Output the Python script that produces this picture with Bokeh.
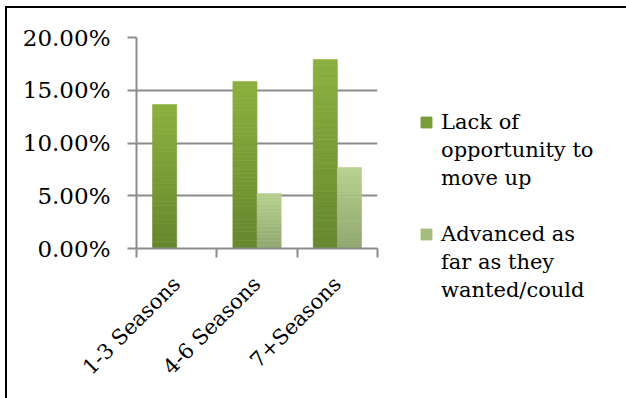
from math import pi
from bokeh.plotting import figure
from bokeh.models import (Range1d, FixedTicker, NumeralTickFormatter, ColumnDataSource,
                          Legend, LegendItem)
from bokeh.embed import file_html
from bokeh.resources import INLINE

# ---- data ----
categories = ["1-3 Seasons", "4-6 Seasons", "7+Seasons"]
lack_of_opportunity = [0.1365, 0.1583, 0.1791]
advanced_as_far = [0.0, 0.0521, 0.0768]
y_ticks = [0.0, 0.05, 0.10, 0.15, 0.20]
series1_lines = ["Lack of", "opportunity to", "move up"]
series2_lines = ["Advanced as", "far as they", "wanted/could"]

# ---- style ----
FONT = "DejaVu Serif"
GRID = "#8c8c8c"
dark_bottom, dark_top = (0x66, 0x86, 0x2c), (0x8c, 0xb1, 0x3f)
light_bottom, light_top = (0x8f, 0xa6, 0x6c), (0xb7, 0xd1, 0x8f)
N_SEG = 40
BAR_W = 0.3


def hexcol(c):
    return "#%02x%02x%02x" % tuple(int(round(v)) for v in c)


def gradient_source(values, offset, c_bot, c_top):
    xs, bots, tops, cols = [], [], [], []
    for i, v in enumerate(values):
        if v <= 0:
            continue
        for k in range(N_SEG):
            t = (k + 0.5) / N_SEG
            xs.append(i + 0.5 + offset)
            bots.append(v * k / N_SEG)
            tops.append(v * (k + 1) / N_SEG)
            cols.append(hexcol([b + (a - b) * t for a, b in zip(c_top, c_bot)]))
    return ColumnDataSource(dict(x=xs, bottom=bots, top=tops, color=cols))


p = figure(x_range=Range1d(0, 3), y_range=Range1d(0, 0.2),
           frame_width=241, frame_height=211,
           min_border_left=129, min_border_top=29, min_border_right=249, min_border_bottom=150,
           output_backend="svg", toolbar_location=None,
           styles={"border-top": "2px solid black", "border-left": "2px solid black",
                   "margin-left": "5px", "margin-top": "6px"})
p.outline_line_color = None
p.background_fill_color = "white"
p.border_fill_color = "white"

src1 = gradient_source(lack_of_opportunity, -BAR_W / 2, dark_bottom, dark_top)
src2 = gradient_source(advanced_as_far, BAR_W / 2, light_bottom, light_top)
r1 = p.vbar(x="x", bottom="bottom", top="top", width=BAR_W, source=src1,
            fill_color="color", line_color="color", line_width=0.6)
r2 = p.vbar(x="x", bottom="bottom", top="top", width=BAR_W, source=src2,
            fill_color="color", line_color="color", line_width=0.6)

# empty renderer used for the continuation lines of the wrapped legend labels
blank = p.vbar(x=[], top=[], width=BAR_W, fill_alpha=0, line_alpha=0)

items = [LegendItem(label=series1_lines[0], renderers=[r1], index=N_SEG // 2)]
items += [LegendItem(label=t, renderers=[blank]) for t in series1_lines[1:]]
items += [LegendItem(label=" ", renderers=[blank])]  # gap between the two entries
items += [LegendItem(label=series2_lines[0], renderers=[r2], index=N_SEG // 2)]
items += [LegendItem(label=t, renderers=[blank]) for t in series2_lines[1:]]

legend = Legend(items=items, location=(42, -56), orientation="vertical",
                label_text_font=FONT, label_text_font_size="21px",
                label_text_color="black", label_height=28,
                glyph_width=14, glyph_height=14, label_standoff=8, spacing=0,
                padding=0, margin=0, border_line_color=None, background_fill_alpha=0)
p.add_layout(legend, "right")

# y axis
p.yaxis.ticker = FixedTicker(ticks=y_ticks)
p.yaxis.formatter = NumeralTickFormatter(format="0.00%")
p.yaxis.major_label_text_font = FONT
p.yaxis.major_label_text_font_size = "23px"
p.yaxis.major_label_text_color = "black"
p.yaxis.major_label_standoff = 17
p.yaxis.major_tick_out = 9
p.yaxis.major_tick_in = 0
p.yaxis.minor_tick_out = 0
p.yaxis.minor_tick_in = 0
p.yaxis.axis_line_color = GRID
p.yaxis.axis_line_width = 2
p.yaxis.major_tick_line_color = GRID
p.yaxis.major_tick_line_width = 2

# x axis: labels at centers, ticks at boundaries (minor ticks)
p.xaxis.ticker = FixedTicker(ticks=[0.5, 1.5, 2.5], minor_ticks=[0, 1, 2, 3])
p.xaxis.major_label_overrides = {0.5: categories[0], 1.5: categories[1], 2.5: categories[2]}
p.xaxis.major_label_orientation = pi / 4
p.xaxis.major_label_text_font = FONT
p.xaxis.major_label_text_font_size = "21px"
p.xaxis.major_label_text_color = "black"
p.xaxis.major_label_standoff = 23
p.xaxis.major_tick_out = 0
p.xaxis.major_tick_in = 0
p.xaxis.minor_tick_out = 9
p.xaxis.minor_tick_in = 0
p.xaxis.minor_tick_line_color = GRID
p.xaxis.minor_tick_line_width = 2
p.xaxis.axis_line_color = GRID
p.xaxis.axis_line_width = 2

p.xgrid.grid_line_color = None
p.ygrid.grid_line_color = GRID
p.ygrid.grid_line_width = 2

open("out.html", "w").write(file_html(p, INLINE))
